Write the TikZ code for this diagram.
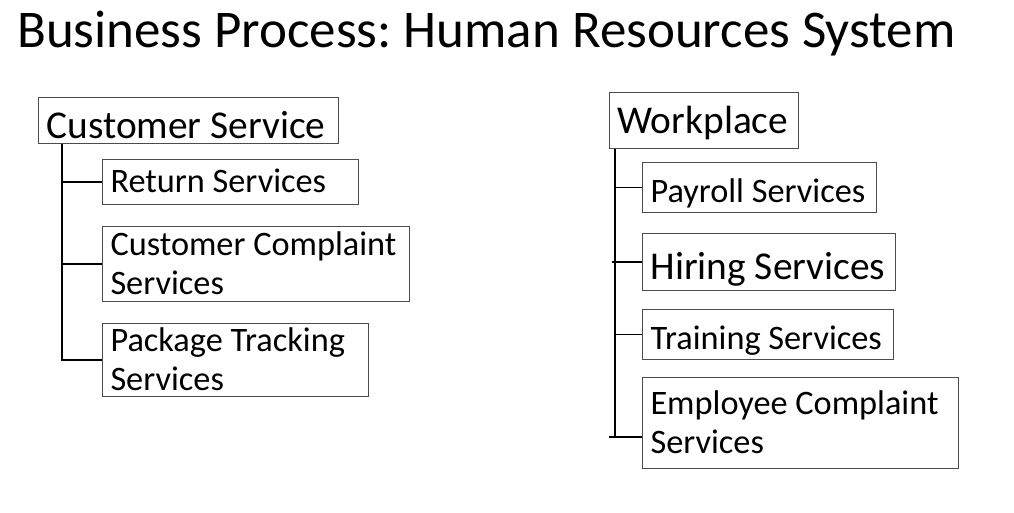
\documentclass[tikz,border=0pt]{standalone}
\usepackage{fontspec}
\setmainfont{Carlito}
\usetikzlibrary{positioning}
\begin{document}
\frenchspacing
\begin{tikzpicture}[
    x = 1pt, y = -1pt,
    box/.style = {draw = black!70, line width = 1pt, rectangle, anchor = north west,
                  align = flush left, inner xsep = 8pt, inner ysep = 0pt, text depth = 0pt},
    head/.style = {box, font = \fontsize{39.4}{39}\selectfont, text height = 24.9pt},
    item/.style = {box, font = \fontsize{34.3}{39}\selectfont, text height = 21.7pt},
    low/.style = {text height = 29.7pt},
    twoline/.style = {text depth = 39pt},
    link/.style = {line width = 1.5pt}
  ]
  \useasboundingbox (0,0) rectangle (1014,512);

  % Title
  \node [anchor = base west, inner sep = 0pt, font = \fontsize{53}{60}\selectfont]
    (title) at (17,47) {Business Process: Human Resources System};

  % Customer service
  \node [head, text height = 36.9pt, text width = 284pt, minimum height = 46pt] (cs) at (38,97) {Customer Service};
  \node [item, text width = 240pt, minimum height = 45pt] (rs) at (102,159) {Return Services};
  \node [item, twoline, text width = 291pt, minimum height = 75pt] (cc) at (102,226) {Customer Complaint\\Services};
  \node [item, twoline, text width = 250pt, minimum height = 73pt] (pt) at (102,323) {Package Tracking\\Services};

  % Workplace
  \node [head, text height = 26.9pt, text width = 173pt, minimum height = 56pt] (wp) at (609,92) {Workplace};
  \node [item, low, text width = 218pt, minimum height = 50pt] (ps) at (642,162) {Payroll Services};
  \node [head, text height = 34.9pt, text width = 237pt, minimum height = 57pt] (hs) at (642,233) {Hiring Services};
  \node [item, low, text width = 235pt, minimum height = 50pt] (ts) at (642,309) {Training Services};
  \node [item, twoline, text width = 300pt, minimum height = 91pt] (ec) at (642,377) {Employee Complaint\\Services};

  % Links
  \coordinate (cstop) at ([xshift = 24pt]cs.south west);
  \draw [link] (cstop) |- (pt.west);
  \draw [link] (cstop |- rs.west) -- (rs.west);
  \draw [link] (cstop |- cc.west) -- (cc.west);

  \coordinate (wptop) at ([xshift = 6pt]wp.south west);
  \coordinate (wpend) at ([yshift = -14pt]ec.west);
  \draw [link] (wptop) -- (wptop |- wpend);
  \draw [link] ([xshift = -6pt]wptop |- wpend) -- (wpend);
  \draw [link] (wptop |- ps.west) -- (ps.west);
  \draw [link] ([xshift = -3pt]wptop |- hs.west) -- (hs.west);
  \draw [link] (wptop |- ts.west) -- (ts.west);
\end{tikzpicture}
\end{document}
